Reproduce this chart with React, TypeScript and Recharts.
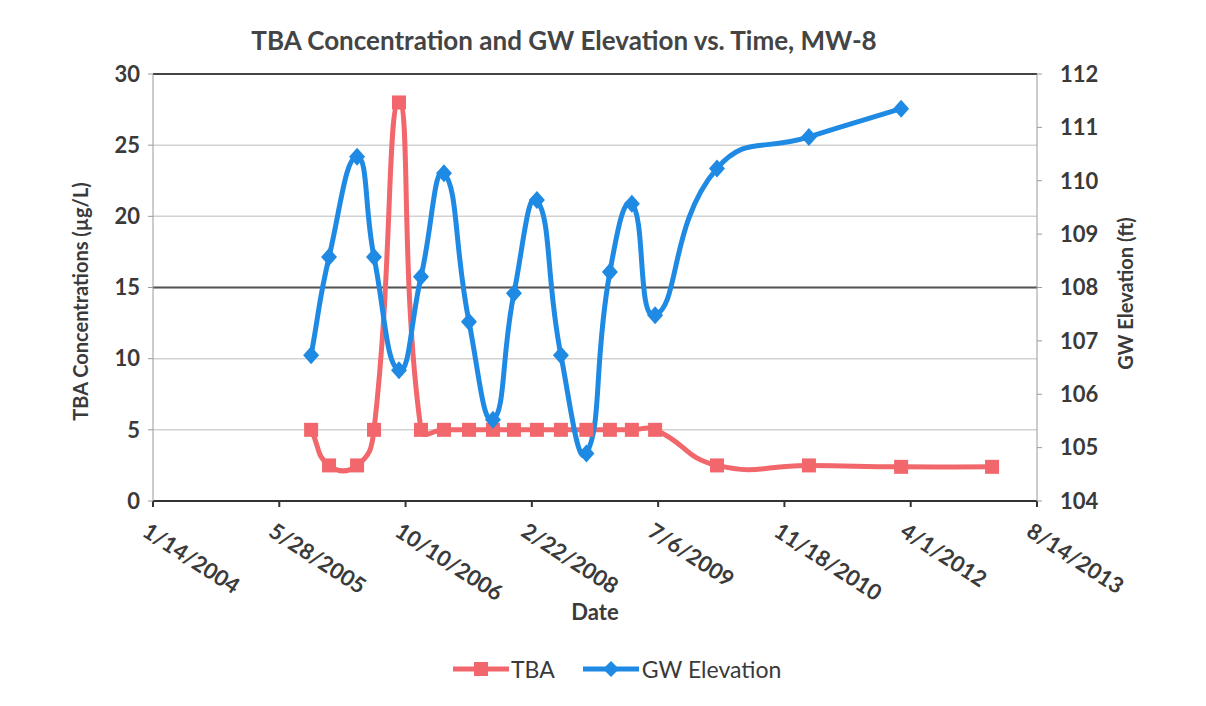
import { LineChart, Line, XAxis, YAxis, CartesianGrid, Legend, ReferenceLine } from 'recharts'

// sampling dates (MW-8) and measured values
const sampleDates = [
  '2005-10-01', '2005-12-11', '2006-04-01', '2006-06-07', '2006-09-14',
  '2006-12-10', '2007-03-11', '2007-06-18', '2007-09-21', '2007-12-13',
  '2008-03-13', '2008-06-16', '2008-09-25', '2008-12-27', '2009-03-24',
  '2009-06-24', '2010-02-24', '2011-02-23', '2012-02-23', '2013-02-17',
]
const tbaValues = [5, 2.5, 2.5, 5, 28, 5, 5, 5, 5, 5, 5, 5, 5, 5, 5, 5, 2.5, 2.5, 2.4, 2.4]
const gwValues = [
  106.73, 108.57, 110.45, 108.57, 106.45, 108.2, 110.14, 107.36, 105.52, 107.89,
  109.64, 106.73, 104.89, 108.29, 109.57, 107.48, 110.23, 110.82, 111.35, null,
]

const xTickLabels = ['1/14/2004', '5/28/2005', '10/10/2006', '2/22/2008', '7/6/2009', '11/18/2010', '4/1/2012', '8/14/2013']
const tbaTicks = [0, 5, 10, 15, 20, 25, 30]
const gwTicks = [104, 105, 106, 107, 108, 109, 110, 111, 112]

const RED = '#f1676b'
const BLUE = '#1f8ae4'
const TEXT = '#3a3a3a'
const FONT = 'Lato, "Open Sans", sans-serif'

const toTime = (s: string) => {
  const [m, d, y] = s.split('/').map(Number)
  return Date.UTC(y, m - 1, d)
}
const xTicks = xTickLabels.map(toTime)

const data = sampleDates.map((d, i) => ({
  t: Date.parse(d),
  tba: tbaValues[i],
  gw: gwValues[i],
}))

// Excel-like smoothed line: tangents weighted by neighbouring segment lengths
function smoothCurve(context: any) {
  let pts: number[][] = []
  const dist = (a: number[], b: number[]) => Math.hypot(b[0] - a[0], b[1] - a[1])
  return {
    areaStart() {},
    areaEnd() {},
    lineStart() {
      pts = []
    },
    point(x: number, y: number) {
      pts.push([+x, +y])
    },
    lineEnd() {
      const n = pts.length
      if (!n) return
      context.moveTo(pts[0][0], pts[0][1])
      for (let i = 0; i < n - 1; i++) {
        const p0 = pts[i - 1] || pts[i]
        const p1 = pts[i]
        const p2 = pts[i + 1]
        const p3 = pts[i + 2] || pts[i + 1]
        const d01 = dist(p0, p1), d12 = dist(p1, p2), d23 = dist(p2, p3)
        const s1 = d01 + d12 > 0 ? d12 / (d01 + d12) : 0
        const s2 = d12 + d23 > 0 ? d12 / (d12 + d23) : 0
        const k = 0.5
        context.bezierCurveTo(
          p1[0] + (p2[0] - p0[0]) * s1 * k, p1[1] + (p2[1] - p0[1]) * s1 * k,
          p2[0] - (p3[0] - p1[0]) * s2 * k, p2[1] - (p3[1] - p1[1]) * s2 * k,
          p2[0], p2[1],
        )
      }
    },
  }
}

const SquareDot = (props: any) => {
  const { cx, cy, index } = props
  if (cx == null || cy == null) return <g key={`s-${index}`} />
  return <rect key={`s-${index}`} x={cx - 7} y={cy - 7} width={14} height={14} fill={RED} />
}

const DiamondDot = (props: any) => {
  const { cx, cy, index, value } = props
  if (cx == null || cy == null || value == null) return <g key={`d-${index}`} />
  return (
    <path
      key={`d-${index}`}
      d={`M${cx},${cy - 9}L${cx + 8},${cy}L${cx},${cy + 9}L${cx - 8},${cy}Z`}
      fill={BLUE}
    />
  )
}

const DateTick = (props: any) => {
  const { x, y, payload } = props
  const label = xTickLabels[xTicks.indexOf(payload.value)]
  return (
    <g transform={`translate(${x - 12},${y + 26})`}>
      <text transform="rotate(33)" textAnchor="start" fontSize={22} fontWeight="bold" fill={TEXT} fontFamily={FONT}>
        {label}
      </text>
    </g>
  )
}

const LeftTitle = (props: any) => {
  const { viewBox } = props
  const cx = viewBox.x + 17
  const cy = viewBox.y + viewBox.height / 2 + 14
  return (
    <text x={cx} y={cy} transform={`rotate(-90 ${cx} ${cy})`} textAnchor="middle" dominantBaseline="central"
      fontSize={20} fontWeight="bold" fill={TEXT} fontFamily={FONT}>
      TBA Concentrations (µg/L)
    </text>
  )
}

const RightTitle = (props: any) => {
  const { viewBox } = props
  const cx = viewBox.x + viewBox.width - 12
  const cy = viewBox.y + viewBox.height / 2 + 6
  return (
    <text x={cx} y={cy} transform={`rotate(-90 ${cx} ${cy})`} textAnchor="middle" dominantBaseline="central"
      fontSize={20} fontWeight="bold" fill={TEXT} fontFamily={FONT}>
      GW Elevation (ft)
    </text>
  )
}

const DateTitle = (props: any) => {
  const { viewBox } = props
  return (
    <text x={viewBox.x + viewBox.width / 2} y={viewBox.y + 119} textAnchor="middle"
      fontSize={22} fontWeight="bold" fill={TEXT} fontFamily={FONT}>
      Date
    </text>
  )
}

const renderLegend = () => (
  <div style={{ display: 'flex', alignItems: 'center', fontFamily: FONT, fontSize: 23, color: TEXT }}>
    <svg width={56} height={20}>
      <line x1={0} x2={56} y1={10} y2={10} stroke={RED} strokeWidth={5} />
      <rect x={21} y={3} width={14} height={14} fill={RED} />
    </svg>
    <span style={{ marginLeft: 2 }}>TBA</span>
    <svg width={56} height={20} style={{ marginLeft: 28 }}>
      <line x1={0} x2={56} y1={10} y2={10} stroke={BLUE} strokeWidth={5} />
      <path d="M28,2L36,10L28,18L20,10Z" fill={BLUE} />
    </svg>
    <span style={{ marginLeft: 3 }}>GW Elevation</span>
  </div>
)

export default function App() {
  return (
    <div style={{ position: 'absolute', left: 0, top: 0, width: 1206, height: 706, background: '#fff' }}>
      <div
        style={{
          position: 'absolute', left: 0, top: 24, width: 1128, textAlign: 'center',
          fontFamily: FONT, fontWeight: 'bold', fontSize: 26, color: '#444',
        }}
      >
        TBA Concentration and GW Elevation vs. Time, MW-8
      </div>
      <LineChart width={1206} height={706} data={data} margin={{ top: 74, right: 69, left: 63, bottom: 145 }}>
        <CartesianGrid yAxisId="left" vertical={false} stroke="#d2d2d2" strokeWidth={1.5} />
        <ReferenceLine yAxisId="left" y={15} stroke="#555" strokeWidth={2} />
        <ReferenceLine yAxisId="left" y={30} stroke="#444" strokeWidth={2} />
        <XAxis
          dataKey="t"
          type="number"
          domain={[xTicks[0], xTicks[xTicks.length - 1]]}
          ticks={xTicks}
          interval={0}
          tick={DateTick}
          tickSize={6}
          height={60}
          stroke="#333"
          strokeWidth={2}
          label={DateTitle}
        />
        <YAxis
          yAxisId="left"
          domain={[0, 30]}
          ticks={tbaTicks}
          interval={0}
          width={90}
          tickSize={5}
          tickMargin={8}
          stroke="#9a9a9a"
          tick={{ fill: TEXT, fontSize: 22, fontWeight: 'bold', fontFamily: FONT }}
          label={LeftTitle}
        />
        <YAxis
          yAxisId="right"
          orientation="right"
          domain={[104, 112]}
          ticks={gwTicks}
          interval={0}
          width={100}
          tickSize={5}
          tickMargin={18}
          stroke="#9a9a9a"
          tick={{ fill: TEXT, fontSize: 22, fontWeight: 'bold', fontFamily: FONT, textAnchor: 'start' }}
          label={RightTitle}
        />
        <Legend
          layout="horizontal"
          verticalAlign="middle"
          align="center"
          content={renderLegend}
          wrapperStyle={{ top: 655, left: 453, width: 420 }}
        />
        <Line
          yAxisId="left"
          type={smoothCurve as any}
          dataKey="tba"
          name="TBA"
          stroke={RED}
          strokeWidth={5}
          dot={SquareDot}
          activeDot={false}
          isAnimationActive={false}
        />
        <Line
          yAxisId="right"
          type={smoothCurve as any}
          dataKey="gw"
          name="GW Elevation"
          stroke={BLUE}
          strokeWidth={5}
          dot={DiamondDot}
          activeDot={false}
          isAnimationActive={false}
        />
      </LineChart>
    </div>
  )
}
